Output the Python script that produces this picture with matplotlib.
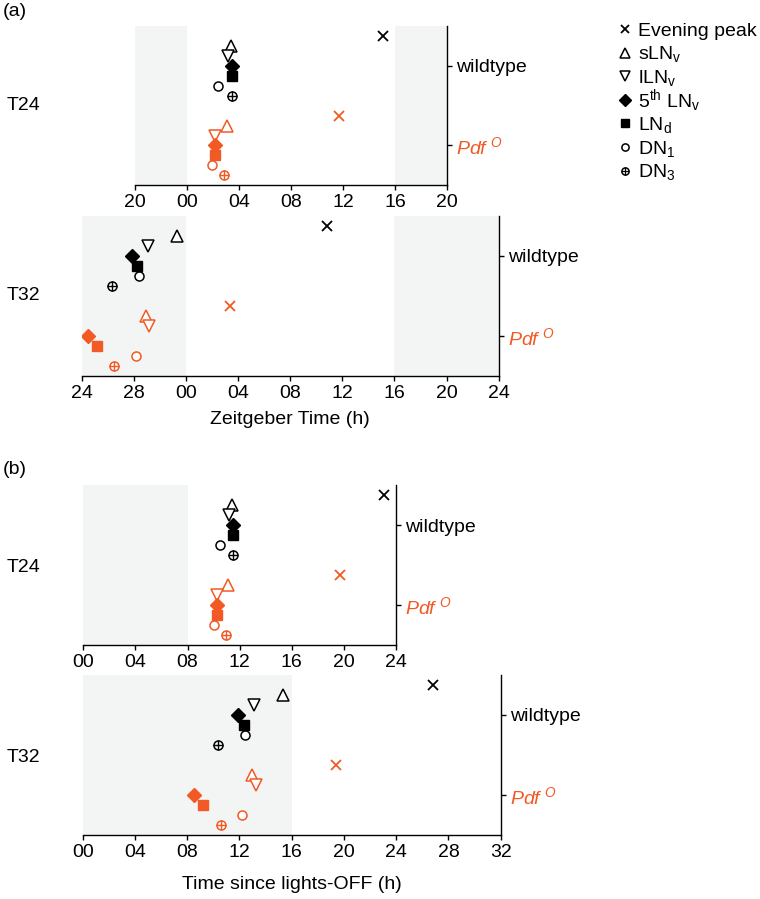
import matplotlib
matplotlib.use('Agg')
import matplotlib.pyplot as plt
from matplotlib.lines import Line2D

plt.rcParams['font.family'] = ['Liberation Sans', 'DejaVu Sans']
plt.rcParams['mathtext.fontset'] = 'custom'
plt.rcParams['mathtext.rm'] = 'Liberation Sans'
plt.rcParams['mathtext.it'] = 'Liberation Sans:italic'
plt.rcParams['mathtext.bf'] = 'Liberation Sans:bold'

ORANGE = '#f15a24'
GRAY = '#f3f5f5'

# cell order: evening peak, sLNv, lLNv, 5th LNv, LNd, DN1, DN3
legend_labels = ['Evening peak', r'sLN$_\mathrm{v}$', r'lLN$_\mathrm{v}$',
                 r'5$^\mathrm{th}$ LN$_\mathrm{v}$', r'LN$_\mathrm{d}$',
                 r'DN$_\mathrm{1}$', r'DN$_\mathrm{3}$']
genotypes = ['wildtype', r'$Pdf^{\ O}$']

# (a) Zeitgeber time
a_t24_wt = [15.05, 3.36, 3.15, 3.46, 3.46, 2.43, 3.48]
a_t24_pdf = [11.69, 3.05, 2.2, 2.2, 2.2, 1.97, 2.84]
a_t32_wt = [10.85, -0.67, -2.92, -4.13, -3.72, -3.59, -5.69]
a_t32_pdf = [3.41, -3.05, -2.8, -7.54, -6.8, -3.82, -5.49]
# (b) time since lights-off
b_t24_wt = [23.08, 11.44, 11.18, 11.51, 11.51, 10.46, 11.51]
b_t24_pdf = [19.74, 11.13, 10.26, 10.26, 10.26, 10.0, 10.95]
b_t32_wt = [26.82, 15.36, 13.09, 11.92, 12.33, 12.45, 10.38]
b_t32_pdf = [19.42, 12.99, 13.25, 8.5, 9.24, 12.2, 10.59]

a_t24_ticks = [-4, 0, 4, 8, 12, 16, 20]
a_t24_labels = ['20', '00', '04', '08', '12', '16', '20']
a_t32_ticks = [-8, -4, 0, 4, 8, 12, 16, 20, 24]
a_t32_labels = ['24', '28', '00', '04', '08', '12', '16', '20', '24']
b_t24_ticks = [0, 4, 8, 12, 16, 20, 24]
b_t24_labels = ['00', '04', '08', '12', '16', '20', '24']
b_t32_ticks = [0, 4, 8, 12, 16, 20, 24, 28, 32]
b_t32_labels = ['00', '04', '08', '12', '16', '20', '24', '28', '32']

a_t24_dark = [(-4, 0), (16, 20)]
a_t32_dark = [(-8, 0), (16, 24)]
b_t24_dark = [(0, 8)]
b_t32_dark = [(0, 16)]

W, H = 760, 899
WT_Y, PDF_Y = 8, 0
row_offset = [3, 2, 1, 0, -1, -2, -3]


def style(i, color, small=False):
    k = 0.8 if small else 1.0
    if i == 0:
        return dict(marker='x', color=color, ms=7 * k, mew=1.3, ls='none')
    if i in (1, 2):
        return dict(marker='^' if i == 1 else 'v', mfc='white', mec=color,
                    ms=8.5 * k, mew=1.1, ls='none')
    if i == 3:
        return dict(marker='D', color=color, ms=7.5 * k, ls='none')
    if i == 4:
        return dict(marker='s', color=color, ms=6.8 * k, ls='none')
    return dict(marker='o', mfc='white', mec=color, ms=6.5 * k, mew=1.1, ls='none')


def draw(ax, xs, base, color):
    for i, x in enumerate(xs):
        y = base + row_offset[i]
        ax.plot(x, y, **style(i, color))
        if i == 6:
            ax.plot(x, y, marker='+', color=color, ms=6.5, mew=1.0, ls='none')


def rect(l, t, r, b):
    return [l / W, 1 - b / H, (r - l) / W, (b - t) / H]


fig = plt.figure(figsize=(W / 100, H / 100), dpi=100)

panels = [
    (rect(134.7, 26, 447.3, 185.3), a_t24_ticks, a_t24_labels, a_t24_dark, a_t24_wt, a_t24_pdf, None, 0),
    (rect(81.7, 216, 498.7, 375.7), a_t32_ticks, a_t32_labels, a_t32_dark, a_t32_wt, a_t32_pdf, 'Zeitgeber Time (h)', 7),
    (rect(83.3, 485, 396, 645), b_t24_ticks, b_t24_labels, b_t24_dark, b_t24_wt, b_t24_pdf, None, 0),
    (rect(82.7, 675, 500.7, 834.7), b_t32_ticks, b_t32_labels, b_t32_dark, b_t32_wt, b_t32_pdf, 'Time since lights-OFF (h)', 11),
]

for pos, ticks, tlabels, dark, wt, pdf, xlabel, lpad in panels:
    ax = fig.add_axes(pos)
    for s, e in dark:
        ax.axvspan(s, e, color=GRAY, lw=0, zorder=0)
    draw(ax, wt, WT_Y, 'black')
    draw(ax, pdf, PDF_Y, ORANGE)
    ax.set_xlim(ticks[0], ticks[-1])
    ax.set_ylim(-4, 12)
    ax.set_xticks(ticks)
    ax.set_xticklabels(tlabels, fontsize=14)
    ax.yaxis.tick_right()
    ax.set_yticks([WT_Y, PDF_Y])
    ax.set_yticklabels(genotypes, fontsize=14)
    ax.get_yticklabels()[1].set_color(ORANGE)
    for sp in ['left', 'top']:
        ax.spines[sp].set_visible(False)
    for sp in ['right', 'bottom']:
        ax.spines[sp].set_linewidth(1.0)
    ax.tick_params(axis='both', direction='out', length=3.5, width=1.0, pad=3)
    if xlabel:
        ax.set_xlabel(xlabel, fontsize=14, labelpad=lpad)


def ftext(x, y, s, **kw):
    fig.text(x / W, 1 - y / H, s, **kw)


ftext(3, 12, '(a)', fontsize=14, va='center')
ftext(3, 470, '(b)', fontsize=14, va='center')
ftext(7, 106, 'T24', fontsize=14, va='center')
ftext(7, 296, 'T32', fontsize=14, va='center')
ftext(7, 567, 'T24', fontsize=14, va='center')
ftext(7, 757, 'T32', fontsize=14, va='center')

# legend
for i, lab in enumerate(legend_labels):
    y = 29 + i * 23.6
    fig.add_artist(Line2D([625 / W], [1 - y / H], transform=fig.transFigure,
                          **style(i, 'black', small=True)))
    if i == 6:
        fig.add_artist(Line2D([625 / W], [1 - y / H], transform=fig.transFigure,
                              marker='+', color='black', ms=5.2, mew=0.9, ls='none'))
    ftext(638, y + 6.8, lab, fontsize=14, va='baseline')

plt.savefig('out.png', dpi=100)
